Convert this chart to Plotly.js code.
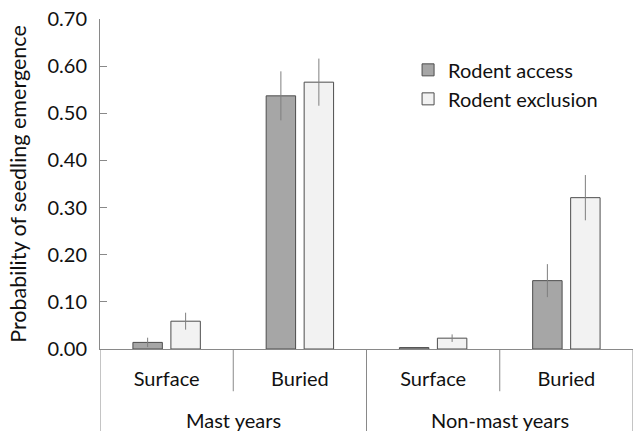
<!DOCTYPE html>
<html>
<head>
<meta charset="utf-8">
<script src="https://cdn.plot.ly/plotly-3.0.1.min.js"></script>
<style>html,body{margin:0;padding:0;background:#fff;}#chart{width:636px;height:431px;}</style>
</head>
<body>
<div id="chart"></div>
<script>
const yearGroups = ['Mast years', 'Mast years', 'Non-mast years', 'Non-mast years'];
const placements = ['Surface', 'Buried', 'Surface', 'Buried'];
const accessMeans = [0.014, 0.537, 0.003, 0.145];
const accessErr = [0.010, 0.052, 0.000, 0.035];
const exclusionMeans = [0.059, 0.566, 0.023, 0.321];
const exclusionErr = [0.018, 0.050, 0.008, 0.048];
const yTicks = [0, 0.1, 0.2, 0.3, 0.4, 0.5, 0.6, 0.7];

const FONT = 'Lato, "Open Sans", sans-serif';
const TXT = '#111';
const axisGray = '#898989';
const idx = placements.map((_, i) => i);

const traces = [
  {
    type: 'bar', name: 'Rodent access',
    x: idx, y: accessMeans,
    marker: {color: '#a6a6a6', line: {color: '#4d4d4d', width: 1}},
    error_y: {type: 'data', array: accessErr, visible: true, color: '#7f7f7f', thickness: 1, width: 0}
  },
  {
    type: 'bar', name: 'Rodent exclusion',
    x: idx, y: exclusionMeans,
    marker: {color: '#f2f2f2', line: {color: '#4d4d4d', width: 1}},
    error_y: {type: 'data', array: exclusionErr, visible: true, color: '#7f7f7f', thickness: 1, width: 0}
  }
];

// group spans built from the yearGroups array
const groups = [];
yearGroups.forEach((g, i) => {
  const last = groups[groups.length - 1];
  if (last && last.name === g) last.end = i; else groups.push({name: g, start: i, end: i});
});

const shapes = [];
const annotations = [];
// short dividers between placements within a group
idx.slice(1).forEach(i => {
  if (yearGroups[i] === yearGroups[i - 1]) {
    shapes.push({type: 'line', xref: 'x', yref: 'paper', x0: i - 0.5, x1: i - 0.5, y0: 0, y1: -0.128,
      line: {color: axisGray, width: 1}});
  }
});
// long dividers at group edges
const edges = [groups[0].start - 0.5].concat(groups.map(g => g.end + 0.5));
edges.forEach(e => {
  shapes.push({type: 'line', xref: 'x', yref: 'paper', x0: e, x1: e, y0: 0, y1: -0.3,
    line: {color: axisGray, width: 1}});
});
groups.forEach(g => {
  annotations.push({xref: 'x', yref: 'paper', x: (g.start + g.end) / 2, y: -0.214, yanchor: 'middle',
    text: g.name, showarrow: false, font: {family: FONT, size: 20, color: TXT}});
});

const layout = {
  width: 636, height: 431,
  margin: {l: 100, r: 3, t: 19, b: 82},
  paper_bgcolor: '#fff', plot_bgcolor: '#fff',
  font: {family: FONT, size: 20, color: TXT},
  barmode: 'group', bargap: 0.43, bargroupgap: 0.225,
  showlegend: true,
  legend: {x: 0.578, y: 0.905, xanchor: 'left', yanchor: 'top', font: {family: FONT, size: 20, color: TXT}, bgcolor: 'rgba(0,0,0,0)'},
  xaxis: {
    range: [-0.5, placements.length - 0.5],
    tickvals: idx, ticktext: placements,
    showline: true, linecolor: axisGray, linewidth: 1,
    ticks: '', ticklabelstandoff: 12,
    showgrid: false, zeroline: false,
    tickfont: {family: FONT, size: 20, color: TXT}
  },
  yaxis: {
    range: [0, 0.7], tickvals: yTicks, tickformat: '.2f',
    ticks: 'inside', ticklen: 7, tickcolor: axisGray,
    showline: true, linecolor: axisGray, linewidth: 1,
    showgrid: false, zeroline: false,
    ticklabelstandoff: 8,
    tickfont: {family: FONT, size: 20, color: TXT},
    title: {text: 'Probability of seedling emergence', font: {family: FONT, size: 21.5, color: TXT}, standoff: 14}
  },
  shapes: shapes,
  annotations: annotations
};

Plotly.newPlot('chart', traces, layout, {displayModeBar: false, staticPlot: true});
</script>
</body>
</html>
